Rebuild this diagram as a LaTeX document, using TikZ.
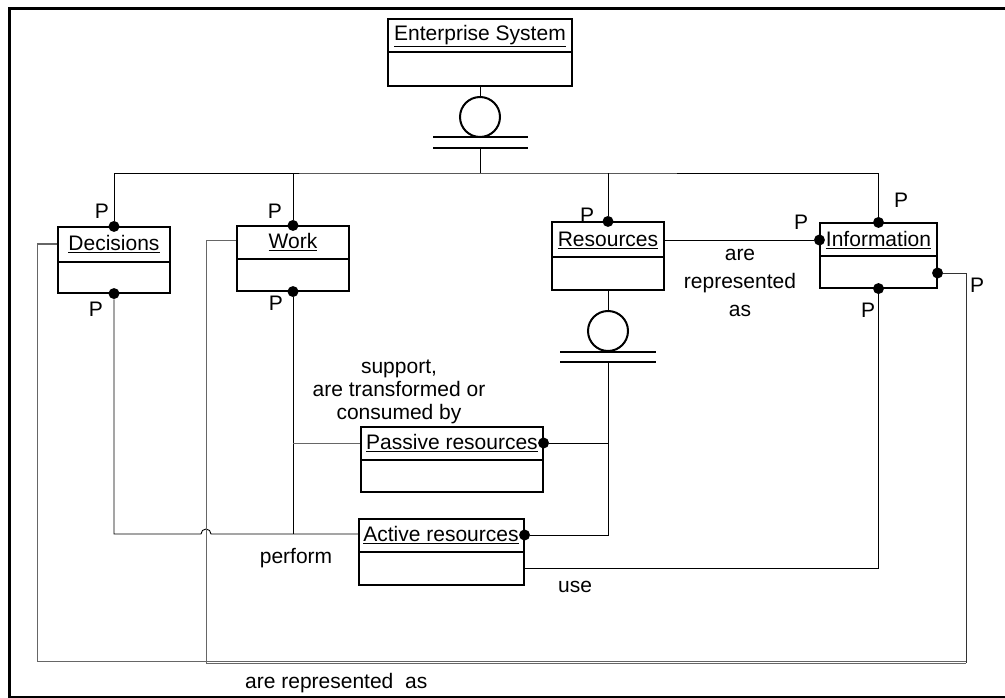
\documentclass[tikz,border=0pt]{standalone}
\usepackage{fontspec}
\setmainfont{Liberation Sans}
\usetikzlibrary{fit,calc}
\begin{document}
\begin{tikzpicture}[x=1pt,y=-1pt,
  classbox/.style={draw, line width=1.1pt, inner sep=0pt},
  divider/.style={line width=1.1pt},
  title/.style={inner sep=0pt, font=\fontsize{21}{23}\selectfont},
  lbl/.style={inner sep=0pt, font=\fontsize{21}{23}\selectfont, align=center},
  conn/.style={line width=0.9pt},
  faint/.style={line width=1pt, draw=black!60},
  dot/.style={circle, fill, inner sep=0pt, minimum size=11pt},
  bar/.style={line width=2pt},
  ring/.style={draw, line width=2pt, circle, inner sep=0pt, minimum size=40pt}]
\useasboundingbox (0,0) rectangle (1005,698);

% outer frame
\draw[line width=3pt] (1005,8.5) -- (9.5,8.5) -- (9.5,697) -- (1005,697);

% classes: outline, compartment divider, underlined name
\node[classbox, fit={(388,19) (572,86)}] (es) {};
\draw[divider] (es.west |- 0,52) -- (es.east |- 0,52);
\node[title] (esT) at (480,36) {\underline{Enterprise System}};

\node[classbox, fit={(58,227) (170,293)}] (dec) {};
\draw[divider] (dec.west |- 0,262) -- (dec.east |- 0,262);
\node[title] (decT) at (114,244) {\underline{Decisions}};

\node[classbox, fit={(237,226) (349,291)}] (work) {};
\draw[divider] (work.west |- 0,259) -- (work.east |- 0,259);
\node[title] (workT) at (293,242) {\underline{Work}};

\node[classbox, fit={(552,222) (664,290)}] (res) {};
\draw[divider] (res.west |- 0,257) -- (res.east |- 0,257);
\node[title] (resT) at (608,240) {\underline{Resources}};

\node[classbox, fit={(820,223) (937,288)}] (inf) {};
\draw[divider] (inf.west |- 0,256) -- (inf.east |- 0,256);
\node[title] (infT) at (878.5,240) {\underline{Information}};

\node[classbox, fit={(361,427) (543,492)}] (pas) {};
\draw[divider] (pas.west |- 0,460) -- (pas.east |- 0,460);
\node[title] (pasT) at (452,443) {\underline{Passive resources}};

\node[classbox, fit={(359,519) (524,585)}] (act) {};
\draw[divider] (act.west |- 0,552) -- (act.east |- 0,552);
\node[title] (actT) at (441,535) {\underline{Active resources}};

% aggregation symbols
\node[ring] (esRing) at (480,117) {};
\draw[bar] (433,137) -- (528,137);
\draw[bar] (433,148) -- (528,148);
\coordinate (esStem) at (480,148);
\coordinate (bus) at (480,173);

\node[ring] (resRing) at (608,331) {};
\draw[bar] (560,352) -- (656,352);
\draw[bar] (560,362) -- (656,362);
\coordinate (resStem) at (608,362);

% end dots
\node[dot] (decTop) at (dec.north) {};
\node[dot] (decBot) at (dec.south) {};
\node[dot] (workTop) at (work.north) {};
\node[dot] (workBot) at (work.south) {};
\node[dot] (resTop) at (res.north) {};
\node[dot] (infTop) at (inf.north) {};
\node[dot] (infBot) at (inf.south) {};
\node[dot] (infLeft) at (inf.west |- resT) {};
\node[dot] (infRight) at (inf.east |- 0,273) {};
\node[dot] (pasDot) at (pas.east |- pasT) {};
\node[dot] (actDot) at (act.east |- actT) {};

% decomposition of the enterprise system
\draw[conn] (es.south) -- (esRing.north);
\draw[conn] (esStem) -- (bus);
\draw[conn] (decTop) |- (bus) -| (infTop);
\draw[conn] (workTop) -- (workTop |- bus);
\draw[conn] (resTop) -- (resTop |- bus);

% decomposition of resources
\draw[conn] (res.south) -- (resRing.north);
\draw[conn] (resStem) |- (actDot);
\draw[conn] (pasDot) -- (pasDot -| resStem);

% decisions / work relations, with a hop over the work line
\coordinate (hopL) at (201,534);
\draw[conn] (decBot) |- (hopL) arc[start angle=180, end angle=0, radius=5pt] -- (act.west |- hopL);
\draw[conn] (workBot) -- (workBot |- hopL);
\draw[faint] (workBot |- pasT) -- (pas.west |- pasT);

% resources and information
\draw[conn] (res.east |- resT) -- (infLeft);
\draw[conn] (infBot) |- (act.east |- 0,568);

% long return lines to information
\coordinate (rc) at (966,661);
\coordinate (rc2) at (966,663);
\coordinate (decL) at (37,661);
\coordinate (workL) at (206,663);
\draw[faint] (dec.west |- 0,244) -| (decL) -- (rc);
\draw[faint] (work.west |- 0,241) -| (workL) -- (rc2);
\draw[conn, draw=black!80] (infRight) -| (rc2);

% multiplicity marks
\node[lbl] (p1) at (102,211) {P};
\node[lbl] (p2) at (96,309) {P};
\node[lbl] (p3) at (275,211) {P};
\node[lbl] (p4) at (276,303) {P};
\node[lbl] (p5) at (587,215) {P};
\node[lbl] (p6) at (801,222) {P};
\node[lbl] (p7) at (901,200) {P};
\node[lbl] (p8) at (868,310) {P};
\node[lbl] (p9) at (977,285) {P};

% association labels
\node[lbl] (l1) at (740,283) {are\\[5pt]represented\\[5pt]as};
\node[lbl] (l2) at (399,392) {support,\\are transformed or\\consumed by};
\node[lbl] (l3) at (296,558) {perform};
\node[lbl] (l4) at (575,587) {use};
\node[lbl, anchor=west] (l5) at (245,683) {are represented\ \ as};
\end{tikzpicture}
\end{document}
